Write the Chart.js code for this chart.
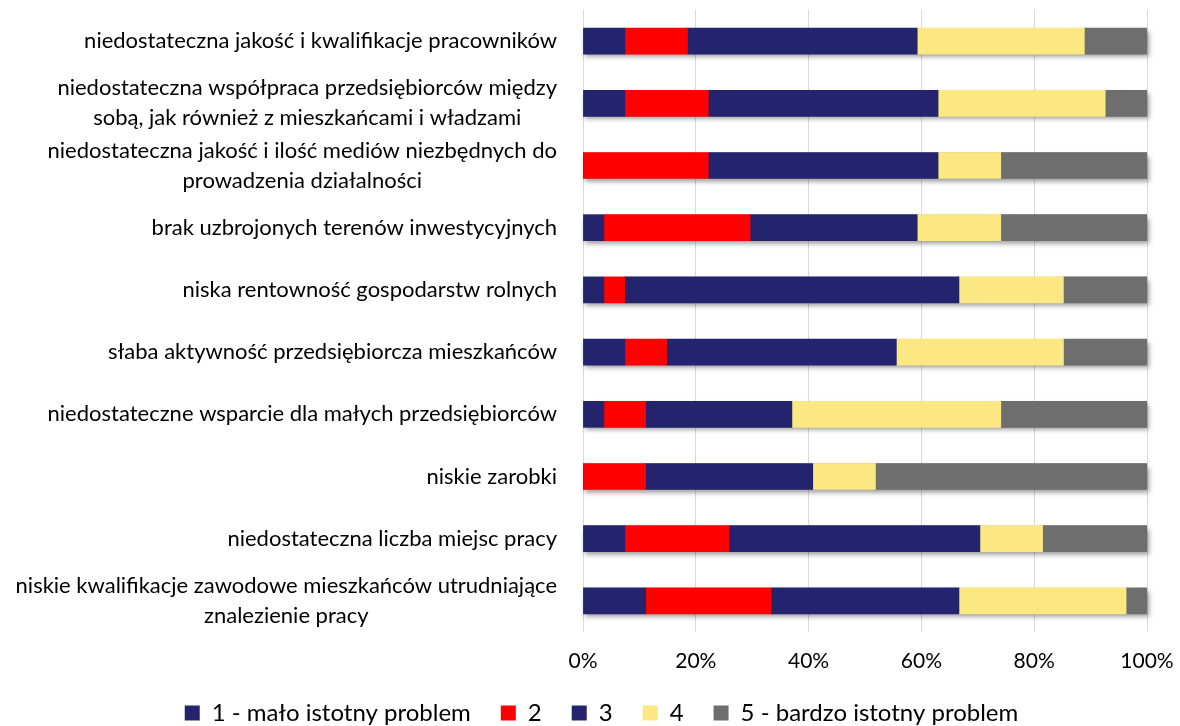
<!DOCTYPE html>
<html>
<head>
<meta charset="utf-8">
<script src="https://cdn.jsdelivr.net/npm/chart.js@4"></script>
<style>
  body { margin: 0; background: #fff; }
  #wrap { width: 1180px; height: 726px; }
</style>
</head>
<body>
<div id="wrap"><canvas id="chart"></canvas></div>
<script>
const categories = [
    'niedostateczna jakość i kwalifikacje pracowników',
    ['niedostateczna współpraca przedsiębiorców między', 'sobą, jak również z mieszkańcami i władzami'],
    ['niedostateczna jakość i ilość mediów niezbędnych do', 'prowadzenia działalności'],
    'brak uzbrojonych terenów inwestycyjnych',
    'niska rentowność gospodarstw rolnych',
    'słaba aktywność przedsiębiorcza mieszkańców',
    'niedostateczne wsparcie dla małych przedsiębiorców',
    'niskie zarobki',
    'niedostateczna liczba miejsc pracy',
    ['niskie kwalifikacje zawodowe mieszkańców utrudniające', 'znalezienie pracy']
];

const seriesNames = ['1 - mało istotny problem', '2', '3', '4', '5 - bardzo istotny problem'];

// udział odpowiedzi w %
const rating1 = [7.41, 7.41, 0, 3.70, 3.70, 7.41, 3.70, 0, 7.41, 11.11];
const rating2 = [11.11, 14.81, 22.22, 25.93, 3.70, 7.41, 7.41, 11.11, 18.52, 22.22];
const rating3 = [40.74, 40.74, 40.74, 29.63, 59.26, 40.74, 25.93, 29.63, 44.44, 33.33];
const rating4 = [29.63, 29.63, 11.11, 14.81, 18.52, 29.63, 37.04, 11.11, 11.11, 29.63];
const rating5 = [11.11, 7.41, 25.93, 25.93, 14.81, 14.81, 25.93, 48.15, 18.52, 3.70];

const xTicks = [0, 20, 40, 60, 80, 100];

const colors = ['#24246e', '#ff0000', '#24246e', '#fbe883', '#6e6e6e'];
const FONT = 'Lato, "DejaVu Sans", sans-serif';

// etykiety kategorii: blok wyrównany do prawej, linie wyśrodkowane
const categoryLabels = {
    id: 'categoryLabels',
    afterDraw(chart) {
        const ctx = chart.ctx;
        const yScale = chart.scales.y;
        const right = chart.chartArea.left - 26;
        const lineHeight = 30;
        ctx.save();
        ctx.font = '22px ' + FONT;
        ctx.fillStyle = '#000';
        ctx.textAlign = 'center';
        ctx.textBaseline = 'middle';
        categories.forEach((label, i) => {
            const lines = Array.isArray(label) ? label : [label];
            const blockWidth = Math.max(...lines.map(l => ctx.measureText(l).width));
            const cx = right - blockWidth / 2;
            const y0 = yScale.getPixelForValue(i) - (lines.length - 1) * lineHeight / 2;
            lines.forEach((line, j) => ctx.fillText(line, cx, y0 + j * lineHeight));
        });
        ctx.restore();
    }
};

// cień pod całym paskiem
const barShadow = {
    id: 'barShadow',
    beforeDatasetsDraw(chart) {
        const ctx = chart.ctx;
        const x = chart.scales.x;
        const meta = chart.getDatasetMeta(0);
        ctx.save();
        ctx.shadowColor = 'rgba(0,0,0,0.4)';
        ctx.shadowBlur = 5;
        ctx.shadowOffsetX = 2;
        ctx.shadowOffsetY = 3;
        ctx.fillStyle = '#888';
        meta.data.forEach((bar, i) => {
            const total = chart.data.datasets.reduce((s, d) => s + d.data[i], 0);
            const left = x.getPixelForValue(0);
            const w = x.getPixelForValue(total) - left;
            ctx.fillRect(left, bar.y - bar.height / 2, w, bar.height);
        });
        ctx.restore();
    }
};

const legendHeight = {
    id: 'legendHeight',
    beforeInit(chart) {
        const fit = chart.legend.fit;
        chart.legend.fit = function () {
            fit.call(this);
            this.height = 55;
        };
    }
};

const data = [rating1, rating2, rating3, rating4, rating5];

new Chart(document.getElementById('chart'), {
    type: 'bar',
    data: {
        labels: categories,
        datasets: data.map((d, i) => ({
            label: seriesNames[i],
            data: d,
            backgroundColor: colors[i],
            borderWidth: 0,
            barThickness: 26
        }))
    },
    options: {
        indexAxis: 'y',
        responsive: true,
        maintainAspectRatio: false,
        animation: false,
        layout: { padding: { top: 10, right: 33, left: 56, bottom: 0 } },
        scales: {
            x: {
                stacked: true,
                min: 0,
                max: 100,
                afterBuildTicks(scale) {
                    scale.ticks = xTicks.map(v => ({ value: v }));
                },
                afterFit(scale) {
                    scale.height = 39;
                    scale.paddingLeft = 0;
                    scale.paddingRight = 0;
                },
                grid: { color: '#d9d9d9', lineWidth: 1, drawTicks: false },
                border: { display: false },
                ticks: {
                    padding: 17,
                    color: '#000',
                    font: { family: FONT, size: 21 },
                    callback: v => v + '%'
                }
            },
            y: {
                stacked: true,
                grid: { display: false },
                border: { display: false },
                ticks: { display: false },
                afterFit(scale) { scale.width = 527; }
            }
        },
        plugins: {
            legend: {
                position: 'bottom',
                labels: {
                    boxWidth: 15,
                    boxHeight: 15,
                    padding: 30,
                    color: '#000',
                    font: { family: FONT, size: 24 }
                }
            },
            tooltip: { enabled: false }
        }
    },
    plugins: [categoryLabels, barShadow, legendHeight]
});
</script>
</body>
</html>
